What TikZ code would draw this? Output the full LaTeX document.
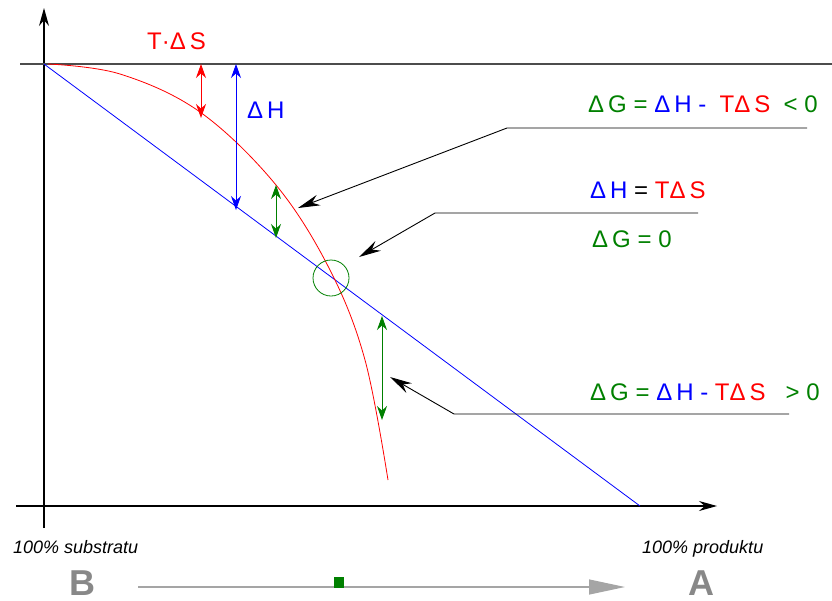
\documentclass[tikz,border=0pt]{standalone}
\usepackage{fontspec}
\setmainfont{Liberation Sans}
\usetikzlibrary{arrows.meta}
\definecolor{gred}{RGB}{255,0,0}
\definecolor{gblue}{RGB}{0,0,255}
\definecolor{ggreen}{RGB}{0,128,0}
\definecolor{ggray}{RGB}{136,136,136}
\definecolor{glight}{RGB}{165,165,165}
\begin{document}
\begin{tikzpicture}[
  x=1pt,y=-1pt,
  font=\fontsize{24}{28}\selectfont,
  axis/.style={-{Stealth[length=18pt,width=10pt]},line width=1.2pt},
  dim/.style={{Stealth[length=14pt,width=10pt]}-{Stealth[length=14pt,width=10pt]},line width=0.9pt},
  call/.style={-{Stealth[length=22pt,width=11pt]},line width=0.9pt},
  lbl/.style={anchor=base west,inner sep=0pt}
]
\useasboundingbox (0,0) rectangle (832,600);
% axes and zero level
\draw[axis] (44,528) -- (44,8);
\draw[axis] (16,506) -- (717,506);
\draw[gray!60!black,line width=1.2pt] (20,64) -- (832,64);
% enthalpy and entropy curves
\draw[gblue,line width=0.8pt] (44,64) -- (640,506);
\draw[gred,line width=0.8pt] plot[smooth,tension=0.6] coordinates {(48,64) (120,74) (200,112)
  (276,185) (330,270) (365,360) (388,480)};
\draw[ggreen,line width=0.8pt] (331,278) circle (18);
% differences
\draw[dim,gred] (201,64) -- (201,118);
\draw[dim,gblue] (236,64) -- (236,210);
\draw[dim,ggreen] (276,185) -- (276,238);
\draw[dim,ggreen] (382,316) -- (382,420);
\node[lbl,text=gred] (ts) at (147,49) {T·Δ\,S};
\node[lbl,text=gblue] (dh) at (247,118) {Δ\,H};
% callouts
\node[lbl] (neg) at (588,112) {\color{ggreen}Δ\,G = \color{gblue}Δ\,H -\ \ \color{gred}TΔ\,S\ \ \color{ggreen}< 0};
\node[lbl] (eq) at (590,198) {\color{gblue}Δ\,H \color{black}= \color{gred}TΔ\,S};
\node[lbl,text=ggreen] (zero) at (592,247) {Δ\,G = 0};
\node[lbl] (pos) at (590,400) {\color{ggreen}Δ\,G = \color{gblue}Δ\,H - \color{gred}TΔ\,S\ \ \ \color{ggreen}> 0};
\coordinate (k1) at (807,128); \coordinate (b1) at (507,128); \coordinate (t1) at (298,208);
\coordinate (k2) at (698,213); \coordinate (b2) at (435,213); \coordinate (t2) at (359,257);
\coordinate (k3) at (789,414); \coordinate (b3) at (454,414); \coordinate (t3) at (390,377);
\draw[call] (k1) -- (b1) -- (t1);
\draw[call] (k2) -- (b2) -- (t2);
\draw[call] (k3) -- (b3) -- (t3);
% reaction direction
\node[font=\fontsize{18}{20}\selectfont\itshape,anchor=base west,inner sep=0pt] (sub) at (13,553) {100\% substratu};
\node[font=\fontsize{18}{20}\selectfont\itshape,anchor=base west,inner sep=0pt] (pro) at (642,553) {100\% produktu};
\node[font=\fontsize{36}{36}\selectfont\bfseries,text=ggray,anchor=base west,inner sep=0pt] (B) at (69,595) {B};
\node[font=\fontsize{36}{36}\selectfont\bfseries,text=ggray,anchor=base west,inner sep=0pt] (A) at (688,595) {A};
\draw[glight,line width=1.2pt,-{Triangle[length=36pt,width=15pt]}] (138,587) -- (625,587);
\fill[ggreen] (334,577) rectangle (344,588);
\end{tikzpicture}
\end{document}
